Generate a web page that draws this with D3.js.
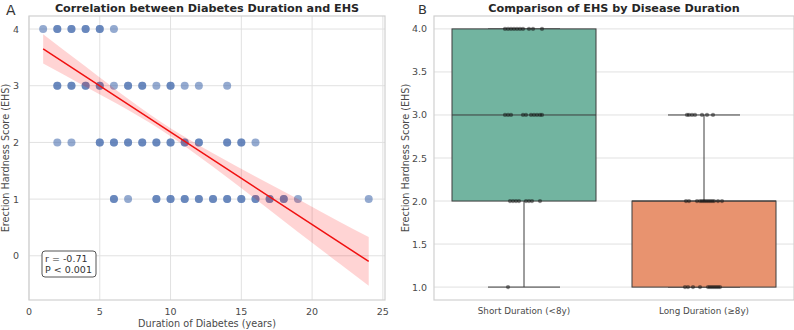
<!DOCTYPE html>
<html>
<head>
<meta charset="utf-8">
<script src="https://cdn.jsdelivr.net/npm/d3@7"></script>
<style>
  body { margin: 0; background: #fff; }
  text { font-family: "DejaVu Sans", sans-serif; }
</style>
</head>
<body>
<div id="vis"></div>
<script>
// Panel A: scatter data (duration in years, EHS score)
const DURATION = [1, 2, 2, 3, 3, 4, 4, 5, 5, 6,
                  2, 2, 3, 3, 4, 4, 5, 5, 6, 7, 7, 8, 8, 9, 10, 10, 11, 12, 14,
                  2, 3, 5, 5, 6, 6, 7, 7, 8, 8, 9, 9, 10, 10, 11, 11, 12, 12, 14, 14, 15, 15, 16,
                  6, 6, 7, 9, 9, 10, 10, 11, 11, 12, 12, 13, 13, 14, 14, 15, 15, 16, 16, 17, 17, 18, 18, 19, 24];
const EHS = [4, 4, 4, 4, 4, 4, 4, 4, 4, 4,
             3, 3, 3, 3, 3, 3, 3, 3, 3, 3, 3, 3, 3, 3, 3, 3, 3, 3, 3,
             2, 2, 2, 2, 2, 2, 2, 2, 2, 2, 2, 2, 2, 2, 2, 2, 2, 2, 2, 2, 2, 2, 2,
             1, 1, 1, 1, 1, 1, 1, 1, 1, 1, 1, 1, 1, 1, 1, 1, 1, 1, 1, 1, 1, 1, 1, 1, 1];

// Regression fit and its 95% band
const FIT_X = [1, 24];
const FIT_Y = [3.65, -0.10];
const CI_X = [1, 4, 7, 10, 13, 16, 19, 22, 24];
const CI_LOW = [3.39, 2.98, 2.57, 2.11, 1.57, 1.00, 0.42, -0.15, -0.53];
const CI_HIGH = [3.91, 3.34, 2.77, 2.25, 1.81, 1.40, 1.00, 0.59, 0.33];
const STATS_TEXT = ["r = -0.71", "P < 0.001"];

const X_TICKS_A = [0, 5, 10, 15, 20, 25];
const Y_TICKS_A = [0, 1, 2, 3, 4];

// Panel B: groups, strip points (value + jitter as fraction of the band)
const GROUPS = ["Short Duration (<8y)", "Long Duration (≥8y)"];
const GROUP_COLORS = ["#72b4a0", "#e8936f"];
const SHORT_VALUES = [4, 4, 4, 4, 4, 4, 4, 4, 4, 4,
                      3, 3, 3, 3, 3, 3, 3, 3, 3, 3,
                      2, 2, 2, 2, 2, 2, 2, 2,
                      1];
const SHORT_JITTER = [-19, -16, -13, -10, -7, -4, -1, 5, 9, 18,
                      -19, -16, -13, -1, 2, 7, 10, 13, 16, 18,
                      -14, -11, -8, -5, 2, 5, 8, 16,
                      -16].map(d => d / 180);
const LONG_VALUES = [3, 3, 3, 3, 3, 3, 3,
                     2, 2, 2, 2, 2, 2, 2, 2, 2, 2, 2, 2, 2,
                     1, 1, 1, 1, 1, 1, 1, 1, 1, 1, 1];
const LONG_JITTER = [-17, -15, -12, -9, -2, 3, 9,
                     -18, -15, -7, -4, -2, 0, 2, 4, 6, 8, 10, 14, 18,
                     -19, -16, -11, -4, 4, 6, 8, 10, 12, 14, 16].map(d => d / 180);
const Y_TICKS_B = [1.0, 1.5, 2.0, 2.5, 3.0, 3.5, 4.0];

const WIDTH = 794, HEIGHT = 330;
const TOP = 16, BOTTOM = 300;
const A_LEFT = 29, A_RIGHT = 385;
const B_LEFT = 434, B_RIGHT = 794;
const GRID = "#e1e1e1", SPINE = "#d0d0d0", TEXT = "#4a4a4a";

const svg = d3.select("#vis").append("svg")
  .attr("width", WIDTH).attr("height", HEIGHT);

// ---------- Panel A ----------
const xA = d3.scaleLinear().domain([0, 25.15]).range([A_LEFT, A_RIGHT]);
const yA = d3.scaleLinear().domain([-0.78, 4.23]).range([BOTTOM, TOP]);

const gA = svg.append("g");

// grid lines
gA.selectAll(".vgrid").data(X_TICKS_A).enter().append("line")
  .attr("x1", d => xA(d)).attr("x2", d => xA(d))
  .attr("y1", TOP).attr("y2", BOTTOM)
  .attr("stroke", GRID).attr("stroke-width", 1);
gA.selectAll(".hgrid").data(Y_TICKS_A).enter().append("line")
  .attr("x1", A_LEFT).attr("x2", A_RIGHT)
  .attr("y1", d => yA(d)).attr("y2", d => yA(d))
  .attr("stroke", GRID).attr("stroke-width", 1);

// frame
gA.append("rect")
  .attr("x", A_LEFT).attr("y", TOP)
  .attr("width", A_RIGHT - A_LEFT).attr("height", BOTTOM - TOP)
  .attr("fill", "none").attr("stroke", SPINE).attr("stroke-width", 1.2);

// scatter points
const scatter = DURATION.map((d, i) => ({x: d, y: EHS[i]}));
gA.append("g").selectAll("circle").data(scatter).enter().append("circle")
  .attr("cx", d => xA(d.x))
  .attr("cy", d => yA(d.y))
  .attr("r", 4)
  .attr("fill", "#4c72b0")
  .attr("opacity", 0.6);

// confidence band
const band = CI_X.map((d, i) => ({x: d, lo: CI_LOW[i], hi: CI_HIGH[i]}));
gA.append("path")
  .datum(band)
  .attr("d", d3.area().curve(d3.curveMonotoneX)
    .x(d => xA(d.x)).y0(d => yA(d.lo)).y1(d => yA(d.hi)))
  .attr("fill", "#ff0000").attr("opacity", 0.17);

// regression line
gA.append("path")
  .datum(FIT_X.map((d, i) => ({x: d, y: FIT_Y[i]})))
  .attr("d", d3.line().x(d => xA(d.x)).y(d => yA(d.y)))
  .attr("fill", "none").attr("stroke", "#f01010").attr("stroke-width", 1.5);

// tick labels
gA.selectAll(".xt").data(X_TICKS_A).enter().append("text")
  .attr("x", d => xA(d)).attr("y", 315)
  .attr("text-anchor", "middle").attr("font-size", 9.5).attr("fill", TEXT)
  .text(d => d);
gA.selectAll(".yt").data(Y_TICKS_A).enter().append("text")
  .attr("x", A_LEFT - 10).attr("y", d => yA(d) + 3.5)
  .attr("text-anchor", "end").attr("font-size", 9.5).attr("fill", TEXT)
  .text(d => d);

// axis labels and title
gA.append("text")
  .attr("x", (A_LEFT + A_RIGHT) / 2).attr("y", 327)
  .attr("text-anchor", "middle").attr("font-size", 9.7).attr("fill", TEXT)
  .text("Duration of Diabetes (years)");
gA.append("text")
  .attr("transform", "translate(9," + ((TOP + BOTTOM) / 2) + ") rotate(-90)")
  .attr("text-anchor", "middle").attr("font-size", 9.7).attr("fill", TEXT)
  .text("Erection Hardness Score (EHS)");
gA.append("text")
  .attr("x", (A_LEFT + A_RIGHT) / 2).attr("y", 12)
  .attr("text-anchor", "middle").attr("font-size", 11.2).attr("font-weight", "bold")
  .attr("fill", "#262626")
  .text("Correlation between Diabetes Duration and EHS");
gA.append("text")
  .attr("x", 6).attr("y", 15)
  .attr("font-size", 14).attr("fill", "#333")
  .text("A");

// stats box
const statsG = gA.append("g").attr("transform", "translate(42,251)");
statsG.append("rect")
  .attr("width", 54).attr("height", 26).attr("rx", 3)
  .attr("fill", "#fff").attr("stroke", "#555").attr("stroke-width", 1);
statsG.selectAll("text").data(STATS_TEXT).enter().append("text")
  .attr("x", 3).attr("y", (d, i) => 10.5 + i * 11)
  .attr("font-size", 9.5).attr("fill", "#333")
  .text(d => d);

// ---------- Panel B ----------
const xB = d3.scaleBand().domain(GROUPS).range([B_LEFT, B_RIGHT]);
const yB = d3.scaleLinear().domain([0.85, 4.15]).range([BOTTOM, TOP]);
const boxW = xB.bandwidth() * 0.8;

const gB = svg.append("g");

gB.selectAll(".hgrid").data(Y_TICKS_B).enter().append("line")
  .attr("x1", B_LEFT).attr("x2", B_RIGHT)
  .attr("y1", d => yB(d)).attr("y2", d => yB(d))
  .attr("stroke", GRID).attr("stroke-width", 1);
gB.append("rect")
  .attr("x", B_LEFT).attr("y", TOP)
  .attr("width", B_RIGHT - B_LEFT).attr("height", BOTTOM - TOP)
  .attr("fill", "none").attr("stroke", SPINE).attr("stroke-width", 1.2);

const groupData = [SHORT_VALUES, LONG_VALUES].map((vals, i) => {
  const s = vals.slice().sort(d3.ascending);
  const q1 = d3.quantile(s, 0.25), med = d3.quantile(s, 0.5), q3 = d3.quantile(s, 0.75);
  const iqr = q3 - q1;
  const lo = d3.min(s.filter(v => v >= q1 - 1.5 * iqr));
  const hi = d3.max(s.filter(v => v <= q3 + 1.5 * iqr));
  return {name: GROUPS[i], color: GROUP_COLORS[i], q1, med, q3, lo, hi};
});

const BOX_STROKE = "#3d3d3d";
groupData.forEach(g => {
  const cx = xB(g.name) + xB.bandwidth() / 2;
  // whiskers
  gB.append("line").attr("x1", cx).attr("x2", cx)
    .attr("y1", yB(g.q3)).attr("y2", yB(g.hi))
    .attr("stroke", BOX_STROKE).attr("stroke-width", 1);
  gB.append("line").attr("x1", cx).attr("x2", cx)
    .attr("y1", yB(g.q1)).attr("y2", yB(g.lo))
    .attr("stroke", BOX_STROKE).attr("stroke-width", 1);
  [g.lo, g.hi].forEach(v => {
    gB.append("line").attr("x1", cx - boxW / 4).attr("x2", cx + boxW / 4)
      .attr("y1", yB(v)).attr("y2", yB(v))
      .attr("stroke", BOX_STROKE).attr("stroke-width", 1);
  });
  // box
  gB.append("rect")
    .attr("x", cx - boxW / 2).attr("y", yB(g.q3))
    .attr("width", boxW).attr("height", yB(g.q1) - yB(g.q3))
    .attr("fill", g.color).attr("stroke", BOX_STROKE).attr("stroke-width", 1);
  // median
  gB.append("line").attr("x1", cx - boxW / 2).attr("x2", cx + boxW / 2)
    .attr("y1", yB(g.med)).attr("y2", yB(g.med))
    .attr("stroke", BOX_STROKE).attr("stroke-width", 1);
});

// strip points
const strip = [];
SHORT_VALUES.forEach((v, i) => strip.push({g: GROUPS[0], v, j: SHORT_JITTER[i]}));
LONG_VALUES.forEach((v, i) => strip.push({g: GROUPS[1], v, j: LONG_JITTER[i]}));
gB.append("g").selectAll("circle").data(strip).enter().append("circle")
  .attr("cx", d => xB(d.g) + xB.bandwidth() / 2 + d.j * xB.bandwidth())
  .attr("cy", d => yB(d.v))
  .attr("r", 2.1)
  .attr("fill", "#111")
  .attr("opacity", 0.5);

// tick labels
gB.selectAll(".yt").data(Y_TICKS_B).enter().append("text")
  .attr("x", B_LEFT - 7).attr("y", d => yB(d) + 3.5)
  .attr("text-anchor", "end").attr("font-size", 9.5).attr("fill", TEXT)
  .text(d => d3.format(".1f")(d));
gB.selectAll(".xt").data(GROUPS).enter().append("text")
  .attr("x", d => xB(d) + xB.bandwidth() / 2).attr("y", 314)
  .attr("text-anchor", "middle").attr("font-size", 8.8).attr("fill", TEXT)
  .text(d => d);

gB.append("text")
  .attr("transform", "translate(409," + ((TOP + BOTTOM) / 2) + ") rotate(-90)")
  .attr("text-anchor", "middle").attr("font-size", 9.7).attr("fill", TEXT)
  .text("Erection Hardness Score (EHS)");
gB.append("text")
  .attr("x", (B_LEFT + B_RIGHT) / 2).attr("y", 12)
  .attr("text-anchor", "middle").attr("font-size", 11.2).attr("font-weight", "bold")
  .attr("fill", "#262626")
  .text("Comparison of EHS by Disease Duration");
gB.append("text")
  .attr("x", 418).attr("y", 14)
  .attr("font-size", 13).attr("fill", "#333")
  .text("B");
</script>
</body>
</html>
